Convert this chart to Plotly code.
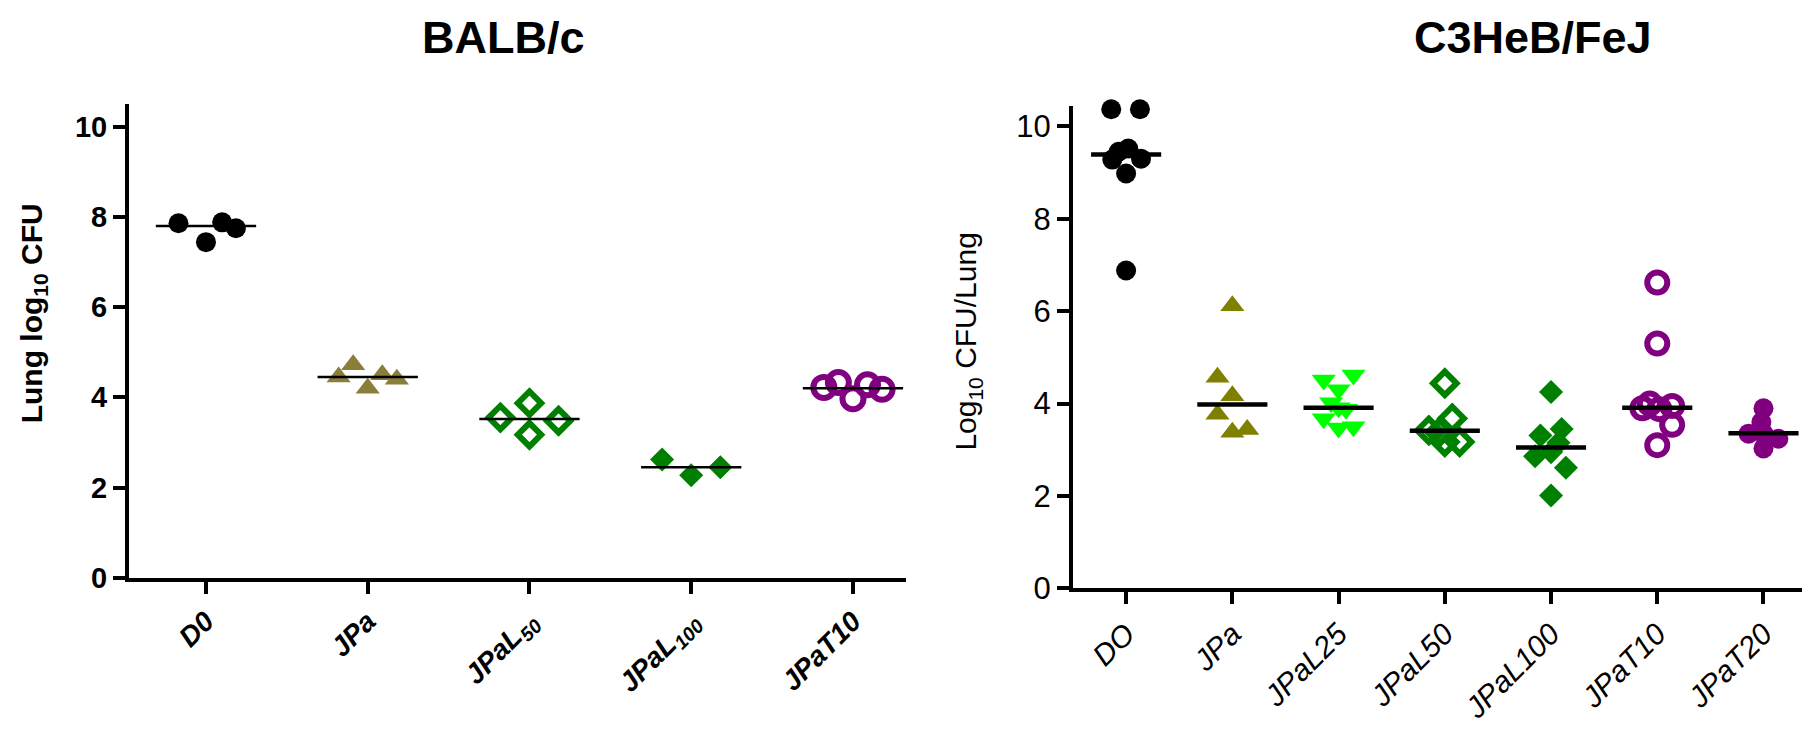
import plotly.graph_objects as go

W, H = 1810, 735
FONT = "Arial, 'Liberation Sans', sans-serif"

# ---------------- BALB/c data ----------------
balb_categories = ["D0", "JPa", "JPaL<sub>50</sub>", "JPaL<sub>100</sub>", "JPaT10"]
balb_D0 = [7.86, 7.44, 7.88, 7.75]
balb_JPa = [4.45, 4.72, 4.20, 4.50, 4.40]
balb_JPaL50 = [3.55, 3.87, 3.17, 3.48]
balb_JPaL100 = [2.62, 2.27, 2.45]
balb_JPaT10 = [4.22, 4.33, 3.97, 4.28, 4.18]
balb_values = [balb_D0, balb_JPa, balb_JPaL50, balb_JPaL100, balb_JPaT10]
balb_medians = [7.80, 4.45, 3.52, 2.45, 4.20]
# horizontal scatter of points within a group (category units)
balb_jitter = [[-0.17, 0.0, 0.10, 0.185],
               [-0.18, -0.09, 0.0, 0.09, 0.18],
               [-0.18, 0.0, 0.0, 0.18],
               [-0.18, 0.0, 0.18],
               [-0.18, -0.09, 0.0, 0.09, 0.18]]
balb_colors = ["#000000", "#8b7d3a", "#008000", "#008000", "#800080"]
balb_symbols = ["circle", "triangle-up", "diamond-open", "diamond", "circle-open"]

# ---------------- C3HeB/FeJ data ----------------
c3h_categories = ["DO", "JPa", "JPaL25", "JPaL50", "JPaL100", "JPaT10", "JPaT20"]
c3h_DO = [10.37, 10.37, 9.28, 9.30, 9.52, 9.45, 8.98, 6.88]
c3h_JPa = [6.12, 4.57, 4.17, 3.77, 3.38, 3.44]
c3h_JPaL25 = [4.62, 4.51, 4.30, 4.02, 3.91, 3.88, 3.67, 3.47, 3.50]
c3h_JPaL50 = [4.44, 3.68, 3.42, 3.38, 3.17, 3.17]
c3h_JPaL100 = [4.25, 3.45, 3.31, 3.15, 2.95, 2.86, 2.61, 2.01]
c3h_JPaT10 = [6.62, 5.30, 4.00, 3.95, 3.90, 3.88, 3.54, 3.10]
c3h_JPaT20 = [3.90, 3.60, 3.35, 3.35, 3.24, 3.03]
c3h_values = [c3h_DO, c3h_JPa, c3h_JPaL25, c3h_JPaL50, c3h_JPaL100, c3h_JPaT10, c3h_JPaT20]
c3h_medians = [9.39, 3.98, 3.91, 3.41, 3.05, 3.91, 3.36]
c3h_jitter = [[-0.14, 0.13, -0.13, 0.14, 0.02, -0.07, 0.0, 0.0],
              [0.0, -0.14, 0.0, -0.14, 0.0, 0.14],
              [0.14, -0.14, 0.0, -0.07, 0.0, 0.07, -0.14, 0.0, 0.14],
              [0.0, 0.07, -0.15, -0.05, 0.0, 0.14],
              [0.0, 0.10, -0.10, 0.07, 0.0, -0.15, 0.14, 0.0],
              [0.0, 0.0, -0.07, 0.14, -0.14, 0.02, 0.14, 0.0],
              [0.0, -0.02, -0.14, 0.0, 0.14, 0.0]]
c3h_colors = ["#000000", "#808000", "#00ff00", "#008000", "#008000", "#800080", "#800080"]
c3h_symbols = ["circle", "triangle-up", "triangle-down", "diamond-open", "diamond",
               "circle-open", "circle"]

fig = go.Figure()


def add_panel(values, jitter, medians, colors, symbols, xa, ya, sizes, open_lw, med_w, med_half):
    for i, (vals, jit) in enumerate(zip(values, jitter)):
        sym = symbols[i]
        is_open = sym.endswith("-open")
        fig.add_trace(go.Scatter(
            x=[i + j for j in jit], y=vals, mode="markers", cliponaxis=False,
            xaxis=xa, yaxis=ya, showlegend=False, hoverinfo="skip",
            marker=dict(symbol=sym, size=sizes[sym], color=colors[i],
                        line=dict(width=open_lw if is_open else 0, color=colors[i]))))
    for i, m in enumerate(medians):
        fig.add_trace(go.Scatter(
            x=[i - med_half, i + med_half], y=[m, m], mode="lines", cliponaxis=False,
            xaxis=xa, yaxis=ya, showlegend=False, hoverinfo="skip",
            line=dict(color="black", width=med_w)))


left_sizes = {"circle": 20, "triangle-up": 21, "diamond-open": 18, "diamond": 18.5, "circle-open": 21}
right_sizes = {"circle": 20, "triangle-up": 21, "triangle-down": 21, "diamond-open": 18,
               "diamond": 18.5, "circle-open": 20}

add_panel(balb_values, balb_jitter, balb_medians, balb_colors, balb_symbols, "x", "y",
          left_sizes, 6, 2.5, 0.31)
add_panel(c3h_values, c3h_jitter, c3h_medians, c3h_colors, c3h_symbols, "x2", "y2",
          right_sizes, 6, 4.5, 0.33)

axis_common = dict(showgrid=False, zeroline=False, showline=True, linecolor="black",
                   linewidth=4, ticks="outside", tickcolor="black", tickwidth=4, ticklen=12)

fig.update_layout(
    width=W, height=H, margin=dict(l=0, r=0, t=0, b=0),
    paper_bgcolor="white", plot_bgcolor="white",
    font=dict(family=FONT, color="black"),
    xaxis=dict(domain=[121 / W, 898 / W], range=[-0.476, 4.328],
               tickvals=list(range(len(balb_categories))), ticktext=balb_categories,
               tickangle=-45,
               tickfont=dict(family=FONT, size=28, weight="bold", style="italic"),
               anchor="y", **axis_common),
    yaxis=dict(domain=[1 - 584 / H, 1 - 98.6 / H], range=[0, 10.5], dtick=2,
               tickfont=dict(family=FONT, size=29, weight="bold"),
               anchor="x", **axis_common),
    xaxis2=dict(domain=[1065 / W, 1808.6 / W], range=[-0.5, 6.5],
                tickvals=list(range(len(c3h_categories))), ticktext=c3h_categories,
                tickangle=-45,
                tickfont=dict(family=FONT, size=30, style="italic"),
                anchor="y2", **axis_common),
    yaxis2=dict(domain=[1 - 595 / H, 1 - 100 / H], range=[0, 10.45], dtick=2,
                tickfont=dict(family=FONT, size=31),
                anchor="x2", **axis_common),
)

fig.add_annotation(text="BALB/c", x=495 / W, y=1 - 30 / H, xref="paper", yref="paper",
                   showarrow=False, font=dict(family=FONT, size=45, weight="bold"),
                   xanchor="center", yanchor="middle")
fig.add_annotation(text="C3HeB/FeJ", x=1525 / W, y=1 - 30 / H, xref="paper", yref="paper",
                   showarrow=False, font=dict(family=FONT, size=45, weight="bold"),
                   xanchor="center", yanchor="middle")
fig.add_annotation(text="Lung log<sub>10</sub> CFU", x=25 / W, y=1 - 313 / H,
                   xref="paper", yref="paper", showarrow=False, textangle=-90,
                   font=dict(family=FONT, size=30, weight="bold"),
                   xanchor="center", yanchor="middle")
fig.add_annotation(text="Log<sub>10</sub> CFU/Lung", x=960 / W, y=1 - 342 / H,
                   xref="paper", yref="paper", showarrow=False, textangle=-90,
                   font=dict(family=FONT, size=30),
                   xanchor="center", yanchor="middle")

fig.write_html("out.html")
